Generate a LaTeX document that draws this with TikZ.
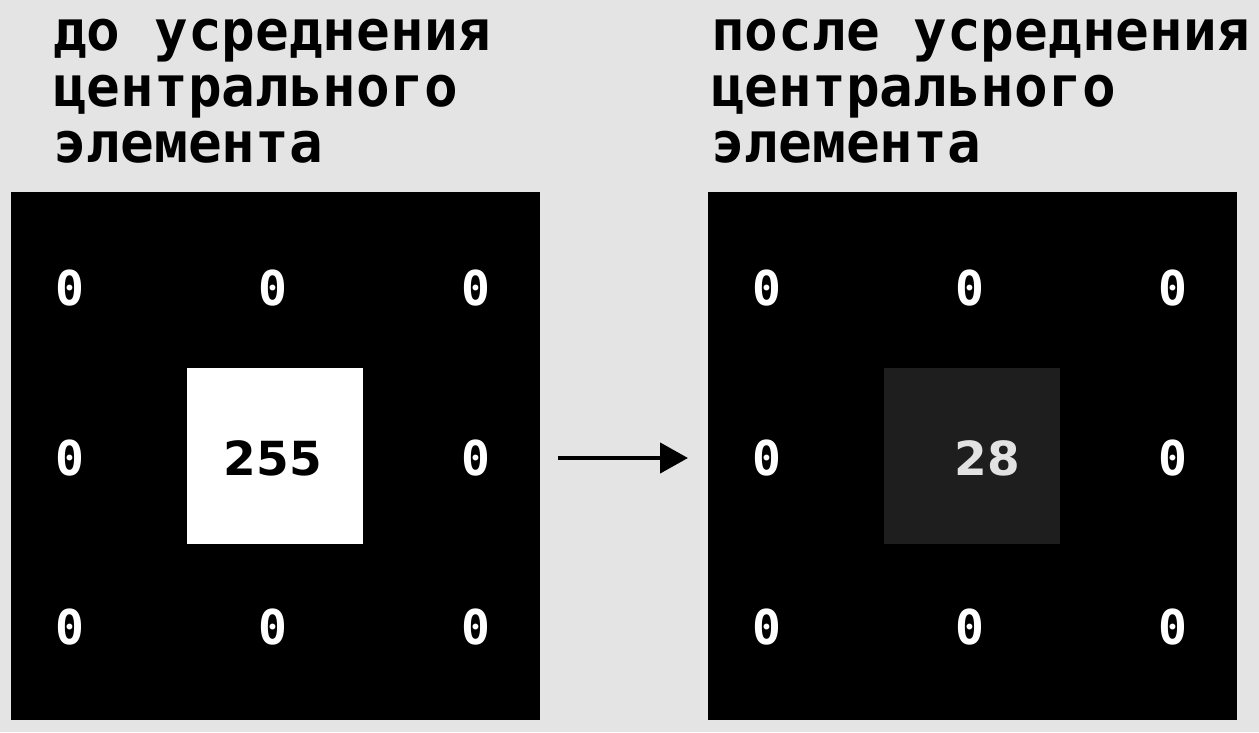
\documentclass[tikz,border=0pt]{standalone}
\usepackage{fontspec}
\usetikzlibrary{arrows.meta}
\newfontfamily\tmono{DejaVu Sans Mono}
\newfontfamily\tsans{DejaVu Sans}
\definecolor{bg}{HTML}{E4E4E4}
\definecolor{avg}{HTML}{1E1E1E}
\definecolor{avgtext}{HTML}{E2E2E2}
\begin{document}
\begin{tikzpicture}[x=1pt,y=-1pt,
  title/.style={anchor=base west,inner sep=0pt,font=\tmono\bfseries\fontsize{56}{56}\selectfont,text=black},
  zero/.style={inner sep=0pt,font=\tmono\bfseries\fontsize{48}{48}\selectfont,text=white},
  val/.style={inner sep=0pt,font=\tsans\bfseries\fontsize{47}{47}\selectfont}]
\fill[bg] (0,0) rectangle (1259,732);
\useasboundingbox (0,0) rectangle (1259,732);
% titles
\node[title] (l1) at (53,50) {до усреднения};
\node[title] (l2) at (53,106) {центрального};
\node[title] (l3) at (53,162) {элемента};
\node[title] (r1) at (711,50) {после усреднения};
\node[title] (r2) at (711,106) {центрального};
\node[title] (r3) at (711,162) {элемента};
% matrices
\fill[black] (11,192) rectangle (540,720);
\fill[black] (708,192) rectangle (1237,720);
\fill[white] (187,368) rectangle (363,544);
\fill[avg] (884,368) rectangle (1060,544);
% left values
\node[zero] (a11) at (70,288) {0};
\node[zero] (a12) at (273,288) {0};
\node[zero] (a13) at (476,288) {0};
\node[zero] (a21) at (70,458) {0};
\node[val,text=black] (a22) at (273,458) {255};
\node[zero] (a23) at (476,458) {0};
\node[zero] (a31) at (70,627) {0};
\node[zero] (a32) at (273,627) {0};
\node[zero] (a33) at (476,627) {0};
% right values
\node[zero] (b11) at (767,288) {0};
\node[zero] (b12) at (970,288) {0};
\node[zero] (b13) at (1173,288) {0};
\node[zero] (b21) at (767,458) {0};
\node[val,text=avgtext] (b22) at (987,458) {28};
\node[zero] (b23) at (1173,458) {0};
\node[zero] (b31) at (767,627) {0};
\node[zero] (b32) at (970,627) {0};
\node[zero] (b33) at (1173,627) {0};
% arrow
\coordinate (as) at (558,458);
\coordinate (ae) at (688,458);
\draw[line width=4.5pt,-{Triangle[length=28pt,width=30pt]}] (as) -- (ae);
\end{tikzpicture}
\end{document}
